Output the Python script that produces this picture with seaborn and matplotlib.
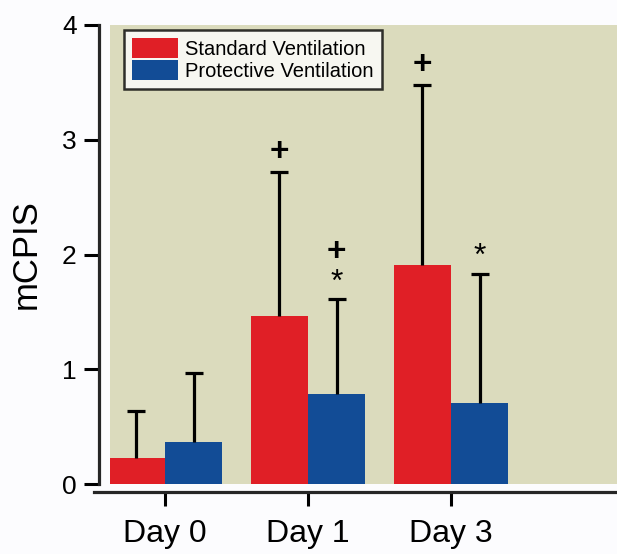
import pandas as pd
import matplotlib
matplotlib.use('Agg')
import matplotlib.pyplot as plt
import seaborn as sns

sns.set_style('ticks')
plt.rcParams['font.family'] = ['Liberation Sans', 'DejaVu Sans']
plt.rcParams['text.color'] = 'black'
plt.rcParams['axes.labelcolor'] = 'black'
plt.rcParams['xtick.color'] = 'black'
plt.rcParams['ytick.color'] = 'black'

days = ['Day 0', 'Day 1', 'Day 3']
groups = ['Standard Ventilation', 'Protective Ventilation']
standard_mean = [0.23, 1.46, 1.91]
standard_err = [0.41, 1.26, 1.57]
protective_mean = [0.37, 0.78, 0.71]
protective_err = [0.60, 0.83, 1.12]
# significance marks drawn above the error bars
standard_marks = ['', '+', '+']
protective_marks = ['', '*', '*']
protective_plus = ['', '+', '']

colors = ['#E01F26', '#124C96']

df = pd.DataFrame({
    'day': days * 2,
    'group': [groups[0]] * 3 + [groups[1]] * 3,
    'mCPIS': standard_mean + protective_mean,
})

fig = plt.figure(figsize=(6.17, 5.54), dpi=100)
fig.patch.set_facecolor('#FCFCFE')
ax = fig.add_axes([110 / 617, 70 / 554, 507 / 617, 459 / 554])
ax.set_facecolor('#DBDBBD')

sns.barplot(data=df, x='day', y='mCPIS', hue='group', palette=colors,
            width=0.8, saturation=1, ax=ax, linewidth=0)

offsets = [-0.2, 0.2]
for k, (means, errs) in enumerate([(standard_mean, standard_err), (protective_mean, protective_err)]):
    xs = [i + offsets[k] for i in range(len(days))]
    eb = ax.errorbar(xs, means, yerr=[[0] * len(errs), errs], fmt='none',
                     ecolor='black', elinewidth=2.3, capsize=6.5, capthick=2.3, zorder=3)
    # only the upper cap is shown
    eb[1][0].set_visible(False)

for i in range(len(days)):
    top = standard_mean[i] + standard_err[i]
    if standard_marks[i]:
        ax.annotate(standard_marks[i], (i - 0.2, top), xytext=(0, 14), textcoords='offset points',
                    ha='center', va='center', fontsize=24, fontweight='bold')
    top = protective_mean[i] + protective_err[i]
    if protective_marks[i]:
        ax.annotate(protective_marks[i], (i + 0.2, top), xytext=(0, 12), textcoords='offset points',
                    ha='center', va='center', fontsize=23)
    if protective_plus[i]:
        ax.annotate(protective_plus[i], (i + 0.2, top), xytext=(0, 34), textcoords='offset points',
                    ha='center', va='center', fontsize=24, fontweight='bold')

ax.set_ylim(0, 4)
ax.set_xlim(-0.385, 3.16)
ax.set_yticks([0, 1, 2, 3, 4])
ax.set_xlabel('')
ax.set_ylabel('mCPIS', fontsize=25, labelpad=14)
ax.tick_params(axis='y', labelsize=19, width=2.2, length=11, pad=5)
ax.tick_params(axis='x', labelsize=23, width=2.2, length=10, pad=9)

sns.despine(ax=ax, top=True, right=True)
ax.spines['left'].set_position(('outward', 8))
ax.spines['bottom'].set_position(('outward', 6))
ax.spines['left'].set_linewidth(2.3)
ax.spines['bottom'].set_linewidth(2.3)
ax.spines['bottom'].set_bounds(-0.5, 3.16)

leg = ax.legend(loc='upper left', bbox_to_anchor=(0.027, 0.99), fontsize=14.5,
                frameon=True, fancybox=False, handlelength=2.3, handleheight=1.2,
                handletextpad=0.35, labelspacing=0.05, borderpad=0.4, borderaxespad=0)
leg.get_frame().set_edgecolor('black')
leg.get_frame().set_linewidth(1.8)
leg.get_frame().set_facecolor('white')

fig.savefig('out.png', dpi=100)
